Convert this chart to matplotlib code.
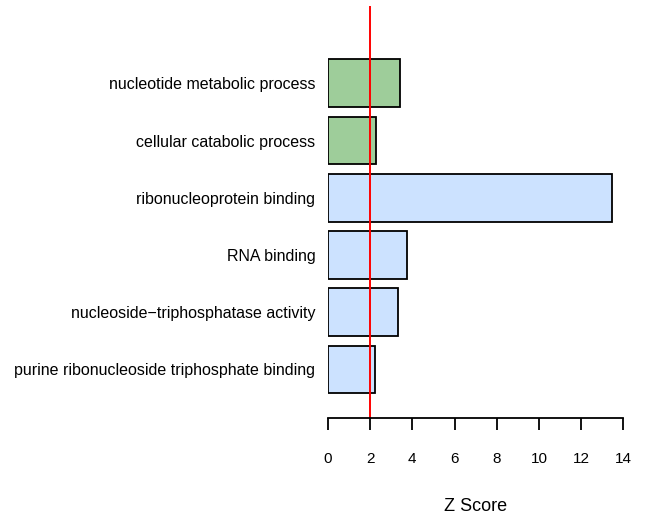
import matplotlib
matplotlib.use("Agg")
import matplotlib.pyplot as plt

plt.rcParams['font.family'] = ['Liberation Sans', 'DejaVu Sans']

# GO terms listed from bottom bar to top bar
terms = [
    "purine ribonucleoside triphosphate binding",
    "nucleoside\u2212triphosphatase activity",
    "RNA binding",
    "ribonucleoprotein binding",
    "cellular catabolic process",
    "nucleotide metabolic process",
]
z_scores = [2.23, 3.30, 3.73, 13.45, 2.26, 3.41]
groups = ["function", "function", "function", "function", "process", "process"]
group_colors = {"process": "#9ECD9A", "function": "#CCE2FF"}
threshold = 2
x_ticks = [0, 2, 4, 6, 8, 10, 12, 14]

W, H = 650, 524
fig = plt.figure(figsize=(W / 100, H / 100), dpi=100)
left, right, top, bottom = 328, 623.3, 6, 418
ax = fig.add_axes([left / W, 1 - bottom / H, (right - left) / W, (bottom - top) / H])

space, width = 0.2, 1.0
centers = [space + width / 2 + i * (space + width) for i in range(len(terms))]
ax.barh(centers, z_scores, height=width, left=0,
        color=[group_colors[g] for g in groups],
        edgecolor="black", linewidth=1.3)
ax.axvline(threshold, color="red", linewidth=1.4)

ax.set_xlim(0, 14)
ax.set_ylim(-0.318, 8.32)
for s in ["top", "right", "left"]:
    ax.spines[s].set_visible(False)
ax.spines["bottom"].set_bounds(0, 14)
ax.spines["bottom"].set_linewidth(1.3)

ax.set_xticks(x_ticks)
ax.set_xticklabels([str(t) for t in x_ticks])
ax.tick_params(axis="x", length=8.5, width=1.3, pad=16, labelsize=11)
ax.set_yticks(centers)
ax.set_yticklabels(terms)
ax.tick_params(axis="y", length=0, pad=9, labelsize=11.5)
ax.set_xlabel("Z Score", fontsize=13, labelpad=23)

fig.savefig("out.png", dpi=100)
